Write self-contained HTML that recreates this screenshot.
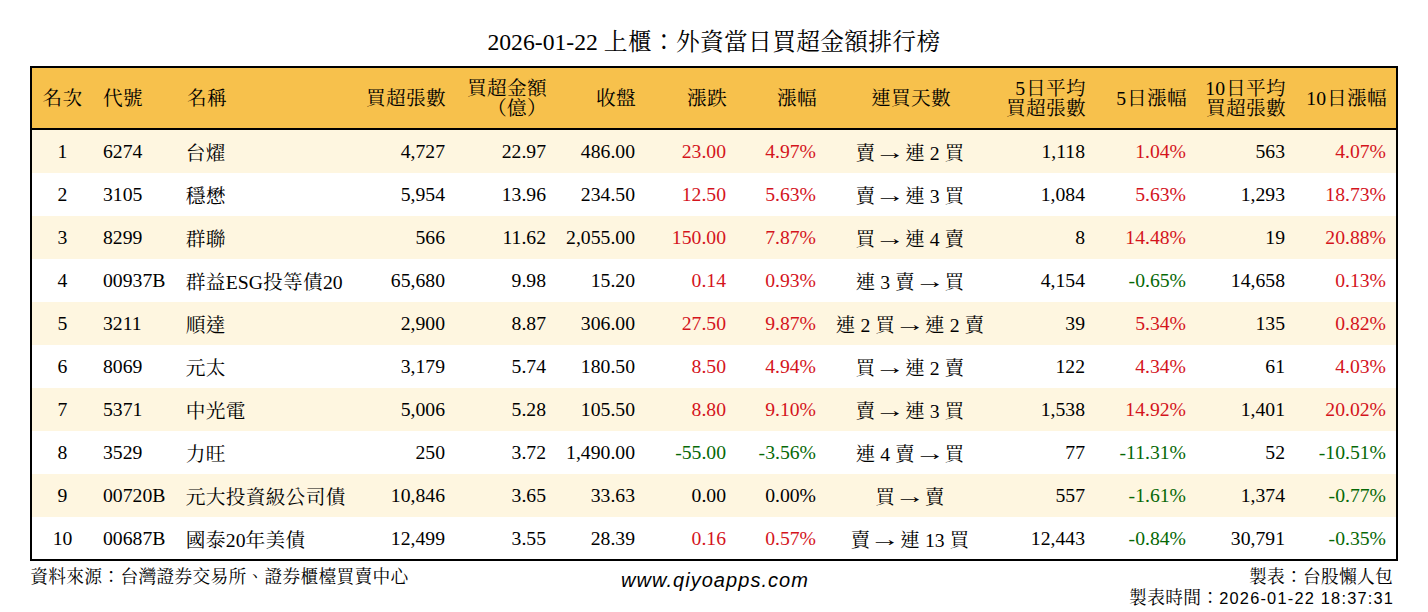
<!DOCTYPE html>
<html lang="zh-Hant">
<head>
<meta charset="utf-8">
<title>2026-01-22 上櫃：外資當日買超金額排行榜</title>
<style>
html,body{margin:0;padding:0;background:#fff;}
body{width:1428px;height:612px;position:relative;overflow:hidden;font-family:"Liberation Serif","Noto Serif CJK SC","Noto Sans CJK TC",serif;color:#000;}
#title{position:absolute;left:0;top:28px;width:1428px;text-align:center;font-size:23.7px;line-height:28px;white-space:nowrap;}
#box{position:absolute;left:30px;top:66px;width:1364px;height:491px;border:2px solid #000;box-sizing:content-box;}
table{border-collapse:separate;border-spacing:0;table-layout:fixed;width:1364px;font-size:19.7px;}
th,td{padding:0;font-weight:normal;white-space:nowrap;overflow:visible;}
thead tr{height:62px;}
thead th{height:60px;background:#f7c14c;border-bottom:2px solid #000;line-height:20px;vertical-align:middle;}
tbody tr{height:43px;}
tbody td{height:43px;}
tbody tr:last-child td{height:42px;}
tbody tr:nth-child(odd){background:#fef6e0;}
.n{margin-right:0;}
th.r .k,th:nth-child(9) .k{left:1px;}
td:nth-child(3) .k:first-child{margin-left:-1.2px;}
.c{text-align:center;}
.l{text-align:left;}
th:nth-child(2),td:nth-child(2){padding-left:10px;}
th:last-child,td:last-child{padding-right:10px;}
tbody tr:last-child{height:42px;}
.r{text-align:right;}
.a{display:inline-block;transform:translateY(-1.5px) scaleX(1.55);}
.up{color:#d4141c;}
.dn{color:#066806;}
#src{position:absolute;left:30.3px;top:566.5px;font-size:17.75px;line-height:21px;white-space:nowrap;}
#web{position:absolute;left:1px;top:568px;width:1428px;text-align:center;font-family:"Liberation Sans",sans-serif;font-style:italic;font-size:20px;letter-spacing:1.05px;line-height:24px;}
#mk{position:absolute;right:35px;top:566.5px;text-align:right;font-size:17.75px;line-height:21.3px;white-space:nowrap;}
#mk .t{font-family:"Liberation Sans",sans-serif;font-size:16.4px;letter-spacing:1.2px;margin-right:-1.2px;position:relative;top:0.5px;}
.k{display:inline-block;position:relative;white-space:nowrap;letter-spacing:0.015em;text-align:left;}
</style>
</head>
<body>
<div id="title">2026-01-22 <span class="k" style="width:14.21em">上櫃：外資當日買超金額排行榜</span></div>
<div id="box">
<table>
<colgroup>
<col style="width:61px"><col style="width:94px"><col style="width:160px"><col style="width:98px"><col style="width:101px"><col style="width:89px"><col style="width:91px"><col style="width:90px"><col style="width:188px"><col style="width:81px"><col style="width:101px"><col style="width:99px"><col style="width:111px">
</colgroup>
<thead>
<tr><th class="c"><span class="k" style="width:2.03em">名次</span></th><th class="l"><span class="k" style="width:2.03em">代號</span></th><th class="l"><span class="k" style="width:2.03em">名稱</span></th><th class="r"><span class="k" style="width:4.06em">買超張數</span></th><th class="r"><span class="k" style="width:4.06em">買超金額</span><br><span class="k" style="width:3.045em">（億）</span></th><th class="r"><span class="k" style="width:2.03em">收盤</span></th><th class="r"><span class="k" style="width:2.03em">漲跌</span></th><th class="r"><span class="k" style="width:2.03em">漲幅</span></th><th class="c"><span class="k" style="width:4.06em">連買天數</span></th><th class="r"><span class="n">5</span><span class="k" style="width:3.045em">日平均</span><br><span class="k" style="width:4.06em">買超張數</span></th><th class="r"><span class="n">5</span><span class="k" style="width:3.045em">日漲幅</span></th><th class="r"><span class="n">10</span><span class="k" style="width:3.045em">日平均</span><br><span class="k" style="width:4.06em">買超張數</span></th><th class="r"><span class="n">10</span><span class="k" style="width:3.045em">日漲幅</span></th></tr>
</thead>
<tbody>
<tr><td class="c">1</td><td class="l">6274</td><td class="l"><span class="k" style="width:2.03em">台燿</span></td><td class="r">4,727</td><td class="r">22.97</td><td class="r">486.00</td><td class="r up">23.00</td><td class="r up">4.97%</td><td class="c"><span class="k" style="width:1.015em">賣</span> <span class="a">→</span> <span class="k" style="width:1.015em">連</span> 2 <span class="k" style="width:1.015em">買</span></td><td class="r">1,118</td><td class="r up">1.04%</td><td class="r">563</td><td class="r up">4.07%</td></tr>
<tr><td class="c">2</td><td class="l">3105</td><td class="l"><span class="k" style="width:2.03em">穩懋</span></td><td class="r">5,954</td><td class="r">13.96</td><td class="r">234.50</td><td class="r up">12.50</td><td class="r up">5.63%</td><td class="c"><span class="k" style="width:1.015em">賣</span> <span class="a">→</span> <span class="k" style="width:1.015em">連</span> 3 <span class="k" style="width:1.015em">買</span></td><td class="r">1,084</td><td class="r up">5.63%</td><td class="r">1,293</td><td class="r up">18.73%</td></tr>
<tr><td class="c">3</td><td class="l">8299</td><td class="l"><span class="k" style="width:2.03em">群聯</span></td><td class="r">566</td><td class="r">11.62</td><td class="r">2,055.00</td><td class="r up">150.00</td><td class="r up">7.87%</td><td class="c"><span class="k" style="width:1.015em">買</span> <span class="a">→</span> <span class="k" style="width:1.015em">連</span> 4 <span class="k" style="width:1.015em">賣</span></td><td class="r">8</td><td class="r up">14.48%</td><td class="r">19</td><td class="r up">20.88%</td></tr>
<tr><td class="c">4</td><td class="l">00937B</td><td class="l"><span class="k" style="width:2.03em">群益</span>ESG<span class="k" style="width:3.045em">投等債</span>20</td><td class="r">65,680</td><td class="r">9.98</td><td class="r">15.20</td><td class="r up">0.14</td><td class="r up">0.93%</td><td class="c"><span class="k" style="width:1.015em">連</span> 3 <span class="k" style="width:1.015em">賣</span> <span class="a">→</span> <span class="k" style="width:1.015em">買</span></td><td class="r">4,154</td><td class="r dn">-0.65%</td><td class="r">14,658</td><td class="r up">0.13%</td></tr>
<tr><td class="c">5</td><td class="l">3211</td><td class="l"><span class="k" style="width:2.03em">順達</span></td><td class="r">2,900</td><td class="r">8.87</td><td class="r">306.00</td><td class="r up">27.50</td><td class="r up">9.87%</td><td class="c"><span class="k" style="width:1.015em">連</span> 2 <span class="k" style="width:1.015em">買</span> <span class="a">→</span> <span class="k" style="width:1.015em">連</span> 2 <span class="k" style="width:1.015em">賣</span></td><td class="r">39</td><td class="r up">5.34%</td><td class="r">135</td><td class="r up">0.82%</td></tr>
<tr><td class="c">6</td><td class="l">8069</td><td class="l"><span class="k" style="width:2.03em">元太</span></td><td class="r">3,179</td><td class="r">5.74</td><td class="r">180.50</td><td class="r up">8.50</td><td class="r up">4.94%</td><td class="c"><span class="k" style="width:1.015em">買</span> <span class="a">→</span> <span class="k" style="width:1.015em">連</span> 2 <span class="k" style="width:1.015em">賣</span></td><td class="r">122</td><td class="r up">4.34%</td><td class="r">61</td><td class="r up">4.03%</td></tr>
<tr><td class="c">7</td><td class="l">5371</td><td class="l"><span class="k" style="width:3.045em">中光電</span></td><td class="r">5,006</td><td class="r">5.28</td><td class="r">105.50</td><td class="r up">8.80</td><td class="r up">9.10%</td><td class="c"><span class="k" style="width:1.015em">賣</span> <span class="a">→</span> <span class="k" style="width:1.015em">連</span> 3 <span class="k" style="width:1.015em">買</span></td><td class="r">1,538</td><td class="r up">14.92%</td><td class="r">1,401</td><td class="r up">20.02%</td></tr>
<tr><td class="c">8</td><td class="l">3529</td><td class="l"><span class="k" style="width:2.03em">力旺</span></td><td class="r">250</td><td class="r">3.72</td><td class="r">1,490.00</td><td class="r dn">-55.00</td><td class="r dn">-3.56%</td><td class="c"><span class="k" style="width:1.015em">連</span> 4 <span class="k" style="width:1.015em">賣</span> <span class="a">→</span> <span class="k" style="width:1.015em">買</span></td><td class="r">77</td><td class="r dn">-11.31%</td><td class="r">52</td><td class="r dn">-10.51%</td></tr>
<tr><td class="c">9</td><td class="l">00720B</td><td class="l"><span class="k" style="width:8.12em">元大投資級公司債</span></td><td class="r">10,846</td><td class="r">3.65</td><td class="r">33.63</td><td class="r">0.00</td><td class="r">0.00%</td><td class="c"><span class="k" style="width:1.015em">買</span> <span class="a">→</span> <span class="k" style="width:1.015em">賣</span></td><td class="r">557</td><td class="r dn">-1.61%</td><td class="r">1,374</td><td class="r dn">-0.77%</td></tr>
<tr><td class="c">10</td><td class="l">00687B</td><td class="l"><span class="k" style="width:2.03em">國泰</span>20<span class="k" style="width:3.045em">年美債</span></td><td class="r">12,499</td><td class="r">3.55</td><td class="r">28.39</td><td class="r up">0.16</td><td class="r up">0.57%</td><td class="c"><span class="k" style="width:1.015em">賣</span> <span class="a">→</span> <span class="k" style="width:1.015em">連</span> 13 <span class="k" style="width:1.015em">買</span></td><td class="r">12,443</td><td class="r dn">-0.84%</td><td class="r">30,791</td><td class="r dn">-0.35%</td></tr>
</tbody>
</table>
</div>
<div id="src"><span class="k" style="width:21.315em">資料來源：台灣證券交易所、證券櫃檯買賣中心</span></div>
<div id="web">www.qiyoapps.com</div>
<div id="mk"><span class="k" style="width:8.12em">製表：台股懶人包</span><br><span class="k" style="width:5.075em">製表時間：</span><span class="t">2026-01-22 18:37:31</span></div>
</body>
</html>
